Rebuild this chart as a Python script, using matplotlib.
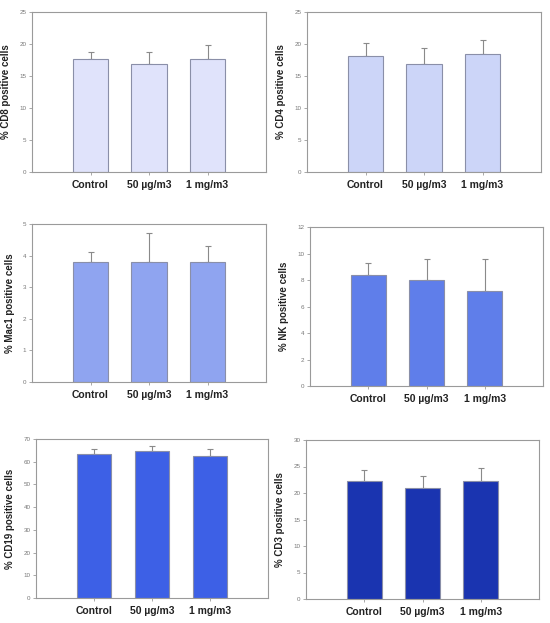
import matplotlib
matplotlib.use("Agg")
import matplotlib.pyplot as plt
import numpy as np

groups = ["Control", "50 µg/m3", "1 mg/m3"]

cd8 = [17.7, 16.8, 17.7]
cd8_err = [1.0, 2.0, 2.2]
cd4 = [18.1, 16.9, 18.5]
cd4_err = [2.1, 2.4, 2.2]
mac1 = [3.8, 3.8, 3.8]
mac1_err = [0.3, 0.9, 0.5]
nk = [8.4, 8.0, 7.2]
nk_err = [0.9, 1.6, 2.4]
cd19 = [63.4, 64.6, 62.7]
cd19_err = [2.0, 2.2, 2.9]
cd3 = [22.3, 20.9, 22.2]
cd3_err = [2.1, 2.3, 2.6]

panels = [
    ("% CD8 positive cells", cd8, cd8_err, 25, 5, "#e0e3fb", (32, 266, 12, 172)),
    ("% CD4 positive cells", cd4, cd4_err, 25, 5, "#ccd5f8", (307, 541, 12, 172)),
    ("% Mac1 positive cells", mac1, mac1_err, 5, 1, "#8fa4f0", (32, 266, 224, 382)),
    ("% NK positive cells", nk, nk_err, 12, 2, "#5f7eea", (310, 543, 227, 386)),
    ("% CD19 positive cells", cd19, cd19_err, 70, 10, "#3d60e6", (36, 268, 439, 598)),
    ("% CD3 positive cells", cd3, cd3_err, 30, 5, "#1a34b0", (306, 539, 440, 599)),
]

W, H = 550, 623
fig = plt.figure(figsize=(W / 100, H / 100), dpi=100)
plt.rcParams["font.family"] = ["Liberation Sans", "DejaVu Sans"]

x = np.arange(len(groups))
frame = "#9a9a9a"

for label, vals, errs, ymax, step, color, (l, r, t, b) in panels:
    ax = fig.add_axes([l / W, 1 - b / H, (r - l) / W, (b - t) / H])
    ax.bar(x, vals, width=0.6, color=color, edgecolor="#8a8fa8", linewidth=0.8, zorder=2)
    ax.errorbar(x, vals, yerr=[np.zeros(len(errs)), errs], fmt="none",
                ecolor="#8a8a8a", elinewidth=0.8, capsize=2, capthick=0.8, zorder=1)
    ax.set_xlim(-1, 3)
    ax.set_ylim(0, ymax)
    ax.set_yticks(np.arange(0, ymax + step / 2, step))
    ax.set_xticks(x)
    ax.set_xticklabels(groups, fontsize=7.5, fontweight="bold", color="#222222")
    ax.set_ylabel(label, fontsize=7, fontweight="bold", color="#222222", labelpad=6)
    ax.tick_params(axis="y", labelsize=4.5, labelcolor="#777777", length=2,
                   width=0.6, color=frame, pad=2)
    ax.tick_params(axis="x", length=2, width=0.6, color=frame, pad=4)
    for s in ax.spines.values():
        s.set_color(frame)
        s.set_linewidth(0.8)

fig.savefig("out.png", dpi=100)
